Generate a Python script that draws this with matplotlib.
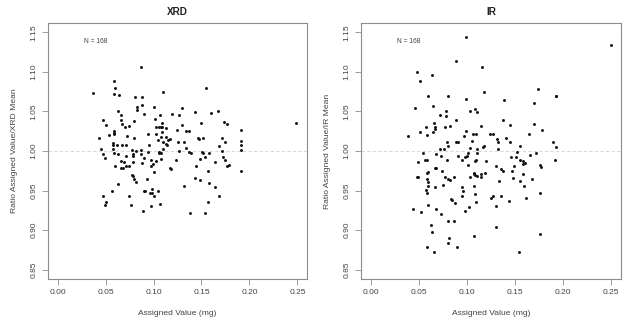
import numpy as np
import matplotlib
matplotlib.use("Agg")
import matplotlib.pyplot as plt

# Assigned value (mg) and ratio to method mean, XRD
xrd_assigned = [
    0.0367, 0.0868, 0.0588, 0.0595, 0.0588, 0.0636, 0.0806, 0.0878, 0.1096, 0.1542,
    0.0878, 0.0823, 0.0826, 0.1003, 0.0629, 0.1293, 0.1435, 0.1670, 0.1598, 0.0664,
    0.0902, 0.1065, 0.1196, 0.1269, 0.0470, 0.0664, 0.0795, 0.1020, 0.1739, 0.0505,
    0.0671, 0.1086, 0.1297, 0.1490, 0.1770, 0.2490, 0.0702, 0.0747, 0.1024, 0.1055,
    0.1075, 0.1093, 0.1127, 0.0584, 0.0588, 0.0591, 0.0726, 0.0539, 0.0947, 0.1024,
    0.1086, 0.1241, 0.1342, 0.1373, 0.1912, 0.0432, 0.0795, 0.1075, 0.1131, 0.1172,
    0.1044, 0.1103, 0.1151, 0.1127, 0.1145, 0.1459, 0.1473, 0.1518, 0.1715, 0.1750,
    0.1912, 0.0574, 0.0581, 0.0619, 0.0671, 0.0716, 0.0954, 0.1252, 0.1317, 0.1338,
    0.1680, 0.1912, 0.0456, 0.0581, 0.0775, 0.0816, 0.0868, 0.0947, 0.1058, 0.1266,
    0.1373, 0.1508, 0.1909, 0.1715, 0.0470, 0.0588, 0.0629, 0.0781, 0.0788, 0.1058,
    0.1082, 0.1393, 0.1515, 0.1577, 0.1532, 0.0494, 0.0712, 0.0902, 0.1075, 0.1722,
    0.1231, 0.1024, 0.0664, 0.0695, 0.0781, 0.0885, 0.1483, 0.1636, 0.1750, 0.1784,
    0.0598, 0.0712, 0.0743, 0.0972, 0.0996, 0.0660, 0.0685, 0.1172, 0.1179, 0.1438,
    0.1770, 0.1003, 0.1563, 0.1909, 0.0774, 0.0788, 0.0792, 0.0816, 0.0927, 0.1435,
    0.1480, 0.1577, 0.0633, 0.1317, 0.1639, 0.0567, 0.0896, 0.0913, 0.0985, 0.1051,
    0.0968, 0.0989, 0.0477, 0.0743, 0.1010, 0.1680, 0.0505, 0.0498, 0.0764, 0.0975,
    0.1068, 0.1570, 0.0892, 0.1376, 0.1532, 0.0972, 0.1103, 0.0868,
]
xrd_ratio = [
    1.073, 1.106, 1.088, 1.080, 1.072, 1.071, 1.068, 1.068, 1.075, 1.080,
    1.058, 1.056, 1.052, 1.056, 1.051, 1.054, 1.049, 1.050, 1.048, 1.046,
    1.047, 1.046, 1.047, 1.046, 1.039, 1.039, 1.038, 1.040, 1.037, 1.033,
    1.034, 1.036, 1.033, 1.036, 1.034, 1.035, 1.030, 1.032, 1.030, 1.031,
    1.030, 1.031, 1.029, 1.025, 1.023, 1.021, 1.019, 1.020, 1.022, 1.022,
    1.024, 1.026, 1.025, 1.025, 1.027, 1.016, 1.017, 1.018, 1.018, 1.015,
    1.014, 1.012, 1.014, 1.009, 1.008, 1.017, 1.015, 1.017, 1.017, 1.012,
    1.013, 1.010, 1.007, 1.008, 1.008, 1.007, 1.008, 1.012, 1.011, 1.004,
    1.006, 1.007, 1.003, 1.003, 1.001, 1.000, 1.001, 0.999, 0.999, 1.000,
    0.999, 0.999, 1.001, 1.000, 0.996, 0.997, 0.996, 0.996, 0.994, 0.997,
    0.998, 0.997, 0.998, 0.997, 0.993, 0.991, 0.994, 0.991, 0.990, 0.992,
    0.989, 0.987, 0.987, 0.986, 0.986, 0.985, 0.990, 0.986, 0.989, 0.982,
    0.981, 0.981, 0.981, 0.981, 0.983, 0.978, 0.979, 0.979, 0.977, 0.981,
    0.981, 0.974, 0.975, 0.975, 0.970, 0.968, 0.965, 0.961, 0.965, 0.966,
    0.963, 0.959, 0.958, 0.956, 0.955, 0.950, 0.949, 0.950, 0.952, 0.950,
    0.947, 0.947, 0.943, 0.943, 0.943, 0.943, 0.936, 0.932, 0.932, 0.931,
    0.933, 0.935, 0.924, 0.922, 0.921, 0.989, 1.003, 0.996,
]

# Assigned value (mg) and ratio to method mean, IR
ir_assigned = [
    0.0383, 0.0988, 0.2497, 0.0887, 0.1160, 0.0480, 0.0642, 0.0515, 0.1733, 0.1177,
    0.0594, 0.0801, 0.1923, 0.1927, 0.0994, 0.1388, 0.1695, 0.0463, 0.0649, 0.1088,
    0.1036, 0.1101, 0.0784, 0.0784, 0.0722, 0.0887, 0.1378, 0.0663, 0.0670, 0.0577,
    0.0777, 0.0829, 0.1146, 0.1443, 0.1699, 0.0666, 0.0649, 0.0511, 0.0988, 0.1243,
    0.1267, 0.1647, 0.1775, 0.0584, 0.0974, 0.1064, 0.1098, 0.1409, 0.1316, 0.1319,
    0.0791, 0.0884, 0.0912, 0.1053, 0.1443, 0.1896, 0.1181, 0.1170, 0.0801, 0.1923,
    0.0722, 0.0767, 0.1105, 0.1029, 0.1319, 0.1550, 0.1523, 0.1015, 0.1101, 0.0542,
    0.0684, 0.0729, 0.0908, 0.1001, 0.1650, 0.1720, 0.1454, 0.1509, 0.0953, 0.0977,
    0.0566, 0.0587, 0.0791, 0.1081, 0.1098, 0.1198, 0.1547, 0.1578, 0.1602, 0.1913,
    0.0490, 0.1012, 0.1302, 0.1492, 0.1581, 0.1754, 0.1765, 0.0673, 0.0680, 0.0742,
    0.0594, 0.0584, 0.1350, 0.1371, 0.1464, 0.1184, 0.1150, 0.1070, 0.1081, 0.1070,
    0.1105, 0.1585, 0.0480, 0.0490, 0.0587, 0.0777, 0.0801, 0.0829, 0.0870, 0.1036,
    0.1150, 0.1478, 0.1678, 0.0594, 0.1333, 0.1554, 0.0597, 0.0670, 0.0756, 0.0950,
    0.1074, 0.1588, 0.0580, 0.0960, 0.0584, 0.1084, 0.1754, 0.0946, 0.1267, 0.1353,
    0.1246, 0.1609, 0.0839, 0.0843, 0.1436, 0.1095, 0.0874, 0.0597, 0.1298, 0.1019,
    0.0442, 0.0677, 0.0984, 0.0521, 0.0735, 0.0801, 0.0867, 0.0625, 0.1302, 0.0642,
    0.1074, 0.1754, 0.0815, 0.0808, 0.0587, 0.0901, 0.0663, 0.1540,
]
ir_ratio = [
    1.019, 1.144, 1.134, 1.114, 1.106, 1.100, 1.096, 1.088, 1.078, 1.075,
    1.070, 1.069, 1.070, 1.069, 1.066, 1.064, 1.061, 1.054, 1.057, 1.053,
    1.051, 1.049, 1.050, 1.044, 1.046, 1.039, 1.039, 1.035, 1.031, 1.031,
    1.030, 1.032, 1.032, 1.033, 1.034, 1.028, 1.024, 1.024, 1.025, 1.022,
    1.022, 1.022, 1.026, 1.020, 1.019, 1.021, 1.022, 1.017, 1.015, 1.011,
    1.011, 1.011, 1.012, 1.013, 1.011, 1.011, 1.006, 1.005, 1.006, 1.005,
    1.003, 1.002, 1.003, 1.004, 1.003, 1.006, 0.999, 0.998, 0.998, 0.997,
    0.996, 0.994, 0.994, 0.994, 0.995, 0.997, 0.992, 0.993, 0.989, 0.992,
    0.989, 0.989, 0.988, 0.987, 0.988, 0.987, 0.988, 0.987, 0.985, 0.989,
    0.986, 0.982, 0.981, 0.981, 0.983, 0.982, 0.980, 0.979, 0.978, 0.975,
    0.973, 0.972, 0.977, 0.975, 0.975, 0.972, 0.971, 0.971, 0.969, 0.972,
    0.968, 0.971, 0.967, 0.967, 0.965, 0.967, 0.964, 0.963, 0.967, 0.967,
    0.967, 0.966, 0.965, 0.961, 0.962, 0.962, 0.956, 0.955, 0.957, 0.955,
    0.956, 0.956, 0.951, 0.949, 0.947, 0.945, 0.947, 0.943, 0.943, 0.943,
    0.941, 0.940, 0.939, 0.938, 0.937, 0.935, 0.934, 0.932, 0.931, 0.929,
    0.927, 0.926, 0.924, 0.923, 0.920, 0.911, 0.911, 0.906, 0.904, 0.897,
    0.893, 0.895, 0.890, 0.883, 0.879, 0.879, 0.872, 0.872,
]

panels = [
    ("XRD", "Ratio Assigned Value/XRD Mean", xrd_assigned, xrd_ratio),
    ("IR", "Ratio Assigned Value/IR Mean", ir_assigned, ir_ratio),
]
x_ticks = [0.00, 0.05, 0.10, 0.15, 0.20, 0.25]
y_ticks = [0.85, 0.90, 0.95, 1.00, 1.05, 1.10, 1.15]

plt.rcParams["font.family"] = ["Liberation Sans", "DejaVu Sans"]
text_col = "#444444"
frame_col = "#8c8c8c"

W, H = 629, 329
fig = plt.figure(figsize=(W / 100, H / 100), dpi=100)
fig.patch.set_facecolor("white")

boxes = [(48, 23, 307, 279), (361, 23, 621, 279)]  # left, top, right, bottom (px)

for (title, ylabel, xs, ys), (l, t, r, b) in zip(panels, boxes):
    ax = fig.add_axes([l / W, (H - b) / H, (r - l) / W, (b - t) / H])
    ax.axhline(1.0, color="#d9d9d9", lw=0.8, ls=(0, (3, 2)), zorder=1)
    ax.scatter(xs, ys, s=4.5, color="#111111", marker="o", linewidths=0, zorder=3)
    ax.set_xlim(-0.01, 0.26)
    ax.set_ylim(0.838, 1.162)
    ax.set_xticks(x_ticks)
    ax.set_xticklabels([f"{v:.2f}" for v in x_ticks])
    ax.set_yticks(y_ticks)
    ax.set_yticklabels([f"{v:.2f}" for v in y_ticks], rotation=90, va="center")
    ax.tick_params(axis="both", labelsize=6, colors=frame_col, labelcolor=text_col,
                   length=4, width=0.6, pad=3.5)
    for sp in ax.spines.values():
        sp.set_color(frame_col)
        sp.set_linewidth(0.8)
    ax.set_title(title, fontsize=7.2, fontweight="bold", color="#222222", pad=6)
    ax.set_xlabel("Assigned Value (mg)", fontsize=6.1, color=text_col, labelpad=10)
    ax.set_ylabel(ylabel, fontsize=6.1, color=text_col, labelpad=9)
    ax.text(0.04, 1.138, "N = 168", fontsize=4.8, color=text_col, ha="center", va="center")

fig.savefig("out.png", dpi=100, facecolor="white")
